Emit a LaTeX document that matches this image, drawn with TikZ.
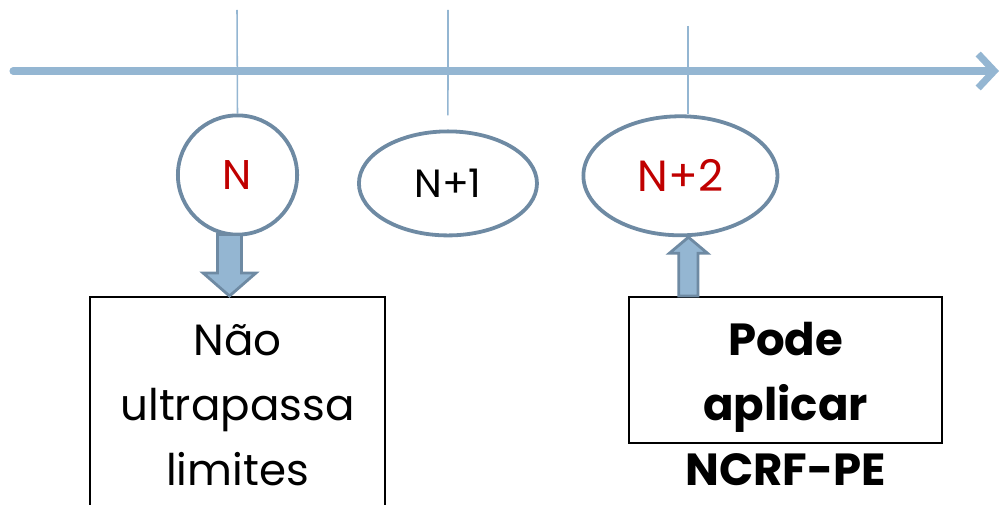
\documentclass[tikz,border=0pt]{standalone}
\usepackage{fontspec}
\setmainfont{Poppins}
\usetikzlibrary{arrows.meta,calc,positioning,shapes.geometric}
\definecolor{lineblue}{RGB}{148,182,210}
\definecolor{edgeblue}{RGB}{110,138,163}
\definecolor{darkred}{RGB}{192,0,0}

\begin{document}
\begin{tikzpicture}[x=0.025cm, y=-0.025cm, node distance=5.26cm,
    tl/.style={draw=lineblue, line width=5pt, line cap=round, -{Straight Barb[length=0.4cm,width=0.85cm]}},
    tick/.style={draw=lineblue, line width=1.1pt},
    yr/.style={ellipse, draw=edgeblue, line width=2.7pt, inner sep=0pt},
    bx/.style={draw=black, line width=1.4pt, anchor=north},
    txt/.style={align=center, anchor=base, font=\fontsize{31}{46}\selectfont},
    barrow/.style={fill=lineblue, draw=edgeblue, line width=2pt, line join=miter}]
      \clip (0,0) rectangle (1004,505);
      % time line
      \coordinate (t0) at (13,71);
      \coordinate (t1) at (999,71);
      \draw [tl] (t0) -- (t1);
      % years
      \node [yr,circle,minimum size=2.98cm,text=darkred,font=\fontsize{29.5}{30}\selectfont] (N) at (237.5,175) {N};
      \node [yr,minimum width=4.45cm,minimum height=2.6cm,font=\fontsize{28}{29}\selectfont] (N1) [right of=N,yshift=-0.21cm] {N+1};
      \node [yr,minimum width=4.85cm,minimum height=2.975cm,text=darkred,font=\fontsize{31}{32}\selectfont] (N2) [right of=N1,xshift=0.55cm,yshift=0.19cm] {N+2};
      % ticks
      \coordinate (k0) at (237,10);
      \coordinate (k1) at (448,10);
      \coordinate (k2) at (688,26);
      \draw [tick] (k0) -- (N.north);
      \draw [tick,shorten >=0.35cm] (k1) -- (N1.north);
      \draw [tick] (k2) -- (k2 |- N2.north);
      % boxes
      \node [bx,minimum width=7.375cm,minimum height=5.6cm] (lbox) at (237.5,296) {};
      \node [bx,minimum width=7.825cm,minimum height=3.65cm] (rbox) at (785.5,296) {};
      \node [txt] (ltext) at (237.5,485) {Não\\ultrapassa\\limites};
      \node [txt,font=\fontsize{32}{46}\selectfont\bfseries] (rtext) at (785.5,485) {Pode\\aplicar\\NCRF-PE};
      % block arrows
      \coordinate (d1) at ($(N.south)+(-8,-2)$);
      \coordinate (d2) at (d1 |- lbox.north);
      \draw [barrow] let \p1=(d1), \p2=(d2) in
        (\x1-0.3cm,\y1) -- (\x1+0.3cm,\y1) -- (\x1+0.3cm,\y2+0.575cm) -- (\x1+0.66cm,\y2+0.575cm)
        -- (\x2,\y2) -- (\x1-0.66cm,\y2+0.575cm) -- (\x1-0.3cm,\y2+0.575cm) -- cycle;
      \coordinate (u2) at ($(N2.south)+(8,0)$);
      \coordinate (u1) at (u2 |- rbox.north);
      \draw [barrow] let \p1=(u1), \p2=(u2) in
        (\x1-0.24cm,\y1) -- (\x1+0.24cm,\y1) -- (\x1+0.24cm,\y2-0.4cm) -- (\x1+0.475cm,\y2-0.4cm)
        -- (\x2,\y2) -- (\x1-0.475cm,\y2-0.4cm) -- (\x1-0.24cm,\y2-0.4cm) -- cycle;
\end{tikzpicture}
\end{document}
